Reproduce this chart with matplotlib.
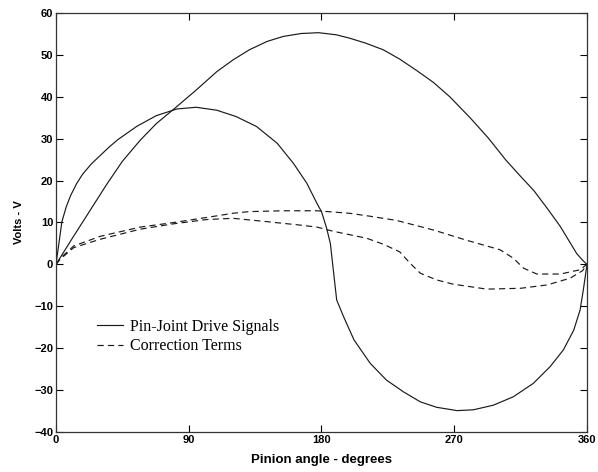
import matplotlib
matplotlib.use("Agg")
import matplotlib.pyplot as plt

plt.rcParams['lines.scale_dashes'] = False

# Pin-joint drive signal 1 (large half-sine-like)
drive1_deg = [0, 11, 22.6, 34, 45, 57, 68, 81, 95, 109, 120, 131, 143, 154, 166, 178,
              190, 199, 210, 222, 233, 244, 256, 267, 281, 293, 305, 315, 324, 333,
              342, 348, 353, 357, 360]
drive1_val = [0, 6.2, 12.6, 18.9, 24.6, 29.6, 33.6, 37.4, 41.6, 46.0, 48.8, 51.2, 53.2,
              54.4, 55.1, 55.3, 54.8, 54.0, 52.8, 51.2, 49.0, 46.4, 43.4, 40.0, 34.9,
              30.2, 24.9, 21.0, 17.6, 13.4, 9.0, 5.5, 2.6, 1.0, 0]

# Pin-joint drive signal 2
drive2_deg = [0, 4, 7, 10, 14, 18, 24, 30, 36, 42, 55, 68, 82, 95, 109, 122, 136, 150,
              161, 170, 177, 180, 183.5, 186, 188, 190.3, 195, 202, 213, 224, 235.5,
              247, 258, 272, 283, 296.5, 310, 323.6, 335, 344, 351, 355.3, 357.5, 360]
drive2_val = [0, 10.2, 13.8, 16.5, 19.3, 21.5, 24.0, 26.0, 28.0, 29.8, 33.0, 35.5, 37.1,
              37.5, 36.8, 35.3, 32.9, 28.9, 24.1, 19.4, 14.5, 12.6, 8.6, 5.0, -1.3,
              -8.5, -12.5, -18.0, -23.6, -27.6, -30.4, -32.8, -34.1, -34.9, -34.7,
              -33.6, -31.6, -28.4, -24.4, -20.4, -15.7, -10.9, -6.1, 0]

# Correction term A
corrA_deg = [0, 3, 12, 30, 57, 80, 102, 120, 131, 154, 177, 188, 199, 211, 229, 233,
             256, 278, 301, 310, 317, 326, 342, 355, 360]
corrA_val = [0, 1.5, 4.4, 6.7, 8.9, 10.0, 11.2, 12.2, 12.6, 12.8, 12.8, 12.5, 12.2,
             11.6, 10.6, 10.3, 8.2, 5.8, 3.5, 1.5, -0.9, -2.3, -2.3, -1.3, 0]

# Correction term B
corrB_deg = [0, 3, 12, 30, 57, 80, 102, 120, 143, 165, 177, 188, 199, 211, 222, 233,
             240, 247, 258, 269, 292, 315, 333, 348.5, 357, 360]
corrB_val = [0, 1.3, 4.0, 6.0, 8.4, 9.7, 10.7, 11.0, 10.2, 9.4, 8.9, 7.9, 7.1, 6.2,
             4.8, 3.0, 0.3, -2.1, -3.7, -4.7, -5.9, -5.7, -4.9, -3.3, -1.5, 0]

x_ticks = [0, 90, 180, 270, 360]
y_ticks = [-40, -30, -20, -10, 0, 10, 20, 30, 40, 50, 60]
legend_labels = ["Pin-Joint Drive Signals", "Correction Terms"]

fig = plt.figure(figsize=(5.98, 4.72), dpi=100)
ax = fig.add_axes([56/598, 1-432/472, (587-56)/598, (432-13)/472])

col = '#1a1a1a'
lw = 0.85
dash = (0, (4.5, 3.0))
l1, = ax.plot(drive1_deg, drive1_val, color=col, lw=lw)
ax.plot(drive2_deg, drive2_val, color=col, lw=lw)
l2, = ax.plot(corrA_deg, corrA_val, color=col, lw=lw, linestyle=dash)
ax.plot(corrB_deg, corrB_val, color=col, lw=lw, linestyle=dash)

ax.set_xlim(0, 360)
ax.set_ylim(-40, 60)
ax.set_xticks(x_ticks)
ax.set_yticks(y_ticks)
ax.set_xticklabels([str(t) for t in x_ticks])
ax.set_yticklabels([str(t).replace('-', '\u2212') for t in y_ticks])
ax.tick_params(direction='in', top=True, right=True, length=5, width=0.8,
               labelsize=8, colors='black', pad=2)
for lab in ax.get_xticklabels() + ax.get_yticklabels():
    lab.set_fontfamily('Liberation Sans')
    lab.set_fontweight('bold')
for s in ax.spines.values():
    s.set_linewidth(0.9)
    s.set_color('#333333')

ax.set_xlabel('Pinion angle - degrees', fontsize=9.5, fontweight='bold',
              family='Liberation Sans', labelpad=7)
ax.set_ylabel('Volts - V', fontsize=8, fontweight='bold',
              family='Liberation Sans', labelpad=7)

leg = ax.legend([l1, l2], legend_labels, loc='upper left',
                bbox_to_anchor=((97-56)/531, (432-319)/419), frameon=False,
                borderpad=0, borderaxespad=0, handlelength=1.6, handletextpad=0.45,
                labelspacing=0.2, prop={'family': 'Liberation Serif', 'size': 11.5})

fig.savefig('out.png', dpi=100)
